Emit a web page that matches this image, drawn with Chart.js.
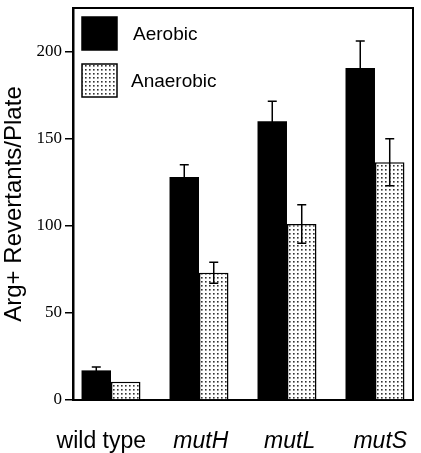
<!DOCTYPE html>
<html>
<head>
<meta charset="utf-8">
<script src="https://cdn.jsdelivr.net/npm/chart.js@4"></script>
<style>
  html, body { margin: 0; padding: 0; background: #fff; }
</style>
</head>
<body>
<canvas id="chart" width="421" height="453"></canvas>
<script>
// data
const categories = ['wild type', 'mutH', 'mutL', 'mutS'];
const aerobic = [17, 128, 160, 190.5];
const aerobicErr = [2, 7, 11.5, 15.5];
const anaerobic = [10.5, 73, 101, 136.5];
const anaerobicErr = [0, 6, 11, 13.5];
const yTicks = [0, 50, 100, 150, 200];

// labels under the bars are not exactly centred in the original
const labelShift = [-0.11, 0.02, 0.03, 0.06];

const canvas = document.getElementById('chart');
const ctx = canvas.getContext('2d');

function stipple() {
    const c = document.createElement('canvas');
    c.width = 4; c.height = 4;
    const g = c.getContext('2d');
    g.fillStyle = '#fff';
    g.fillRect(0, 0, 4, 4);
    g.fillStyle = '#333';
    g.fillRect(1, 1, 1.6, 1.6);
    return ctx.createPattern(c, 'repeat');
}
const dots = stipple();

// error bars on top of each bar
const errorBars = {
    id: 'errorBars',
    afterDatasetsDraw(chart) {
        const c = chart.ctx;
        const y = chart.scales.y;
        const errs = [aerobicErr, anaerobicErr];
        c.save();
        c.strokeStyle = '#000';
        c.lineWidth = 1.5;
        chart.data.datasets.forEach((ds, d) => {
            chart.getDatasetMeta(d).data.forEach((bar, i) => {
                const e = errs[d][i];
                if (!e) return;
                const v = ds.data[i].y;
                const top = y.getPixelForValue(v + e);
                const bot = y.getPixelForValue(v - e);
                c.beginPath();
                c.moveTo(bar.x, top); c.lineTo(bar.x, bot);
                c.moveTo(bar.x - 4.5, top); c.lineTo(bar.x + 4.5, top);
                c.moveTo(bar.x - 4.5, bot); c.lineTo(bar.x + 4.5, bot);
                c.stroke();
            });
        });
        c.restore();
    }
};

// closed frame + legend boxes inside the plot
const frameAndLegend = {
    id: 'frameAndLegend',
    afterDraw(chart) {
        const c = chart.ctx;
        const a = chart.chartArea;
        c.save();
        c.strokeStyle = '#000';
        c.lineWidth = 2;
        c.beginPath();
        c.moveTo(a.left, a.top); c.lineTo(a.right, a.top); c.lineTo(a.right, a.bottom);
        c.stroke();

        chart.data.datasets.forEach((ds, d) => {
            const bx = a.left + 9, by = a.top + 9 + d * 47;
            c.fillStyle = ds.backgroundColor;
            c.fillRect(bx, by, 35, 33);
            c.lineWidth = 1.5;
            c.strokeRect(bx, by, 35, 33);
            c.fillStyle = '#000';
            c.font = '19px "Liberation Sans", Arial, sans-serif';
            c.textBaseline = 'middle';
            c.fillText(ds.label, a.left + 60 - d * 2, by + 18);
        });
        c.restore();
    }
};

new Chart(ctx, {
    type: 'bar',
    data: {
        datasets: [{
            label: 'Aerobic',
            data: aerobic.map((v, i) => ({ x: i, y: v })),
            backgroundColor: '#000',
            borderColor: '#000',
            borderWidth: 0
        }, {
            label: 'Anaerobic',
            data: anaerobic.map((v, i) => ({ x: i, y: v })),
            backgroundColor: dots,
            borderColor: '#000',
            borderWidth: 1.5
        }]
    },
    options: {
        responsive: false,
        animation: false,
        barPercentage: 1,
        categoryPercentage: 0.67,
        layout: { padding: { top: 8, right: 8, left: 0, bottom: 0 } },
        plugins: {
            legend: { display: false },
            tooltip: { enabled: false }
        },
        scales: {
            x: {
                type: 'linear',
                offset: false,
                min: -0.432,
                max: 3.432,
                grid: { display: false },
                border: { color: '#000', width: 2 },
                afterBuildTicks: s => { s.ticks = categories.map((c, i) => ({ value: i + labelShift[i] })); },
                afterFit: s => { s.height = 53; s.paddingLeft = 0; s.paddingRight = 0; },
                ticks: {
                    autoSkip: false,
                    maxRotation: 0,
                    color: '#000',
                    padding: 20,
                    font: c => ({ family: '"Liberation Sans", Arial, sans-serif', size: 23, style: c.index === 0 ? 'normal' : 'italic' }),
                    callback: (v, i) => categories[i]
                }
            },
            y: {
                min: 0,
                max: 225,
                grid: { drawOnChartArea: false, color: '#000', lineWidth: 1.5, tickLength: 8 },
                border: { color: '#000', width: 2.5 },
                afterBuildTicks: s => { s.ticks = yTicks.map(v => ({ value: v })); },
                afterFit: s => { s.width = 73; s.paddingTop = 0; s.paddingBottom = 0; },
                ticks: {
                    color: '#000',
                    padding: 3,
                    font: { family: '"Liberation Serif", "Times New Roman", serif', size: 17 }
                },
                title: {
                    display: true,
                    text: 'Arg+ Revertants/Plate',
                    color: '#000',
                    padding: { top: 0, bottom: 2 },
                    font: { family: '"Liberation Sans", Arial, sans-serif', size: 24 }
                }
            }
        }
    },
    plugins: [errorBars, frameAndLegend]
});
</script>
</body>
</html>
